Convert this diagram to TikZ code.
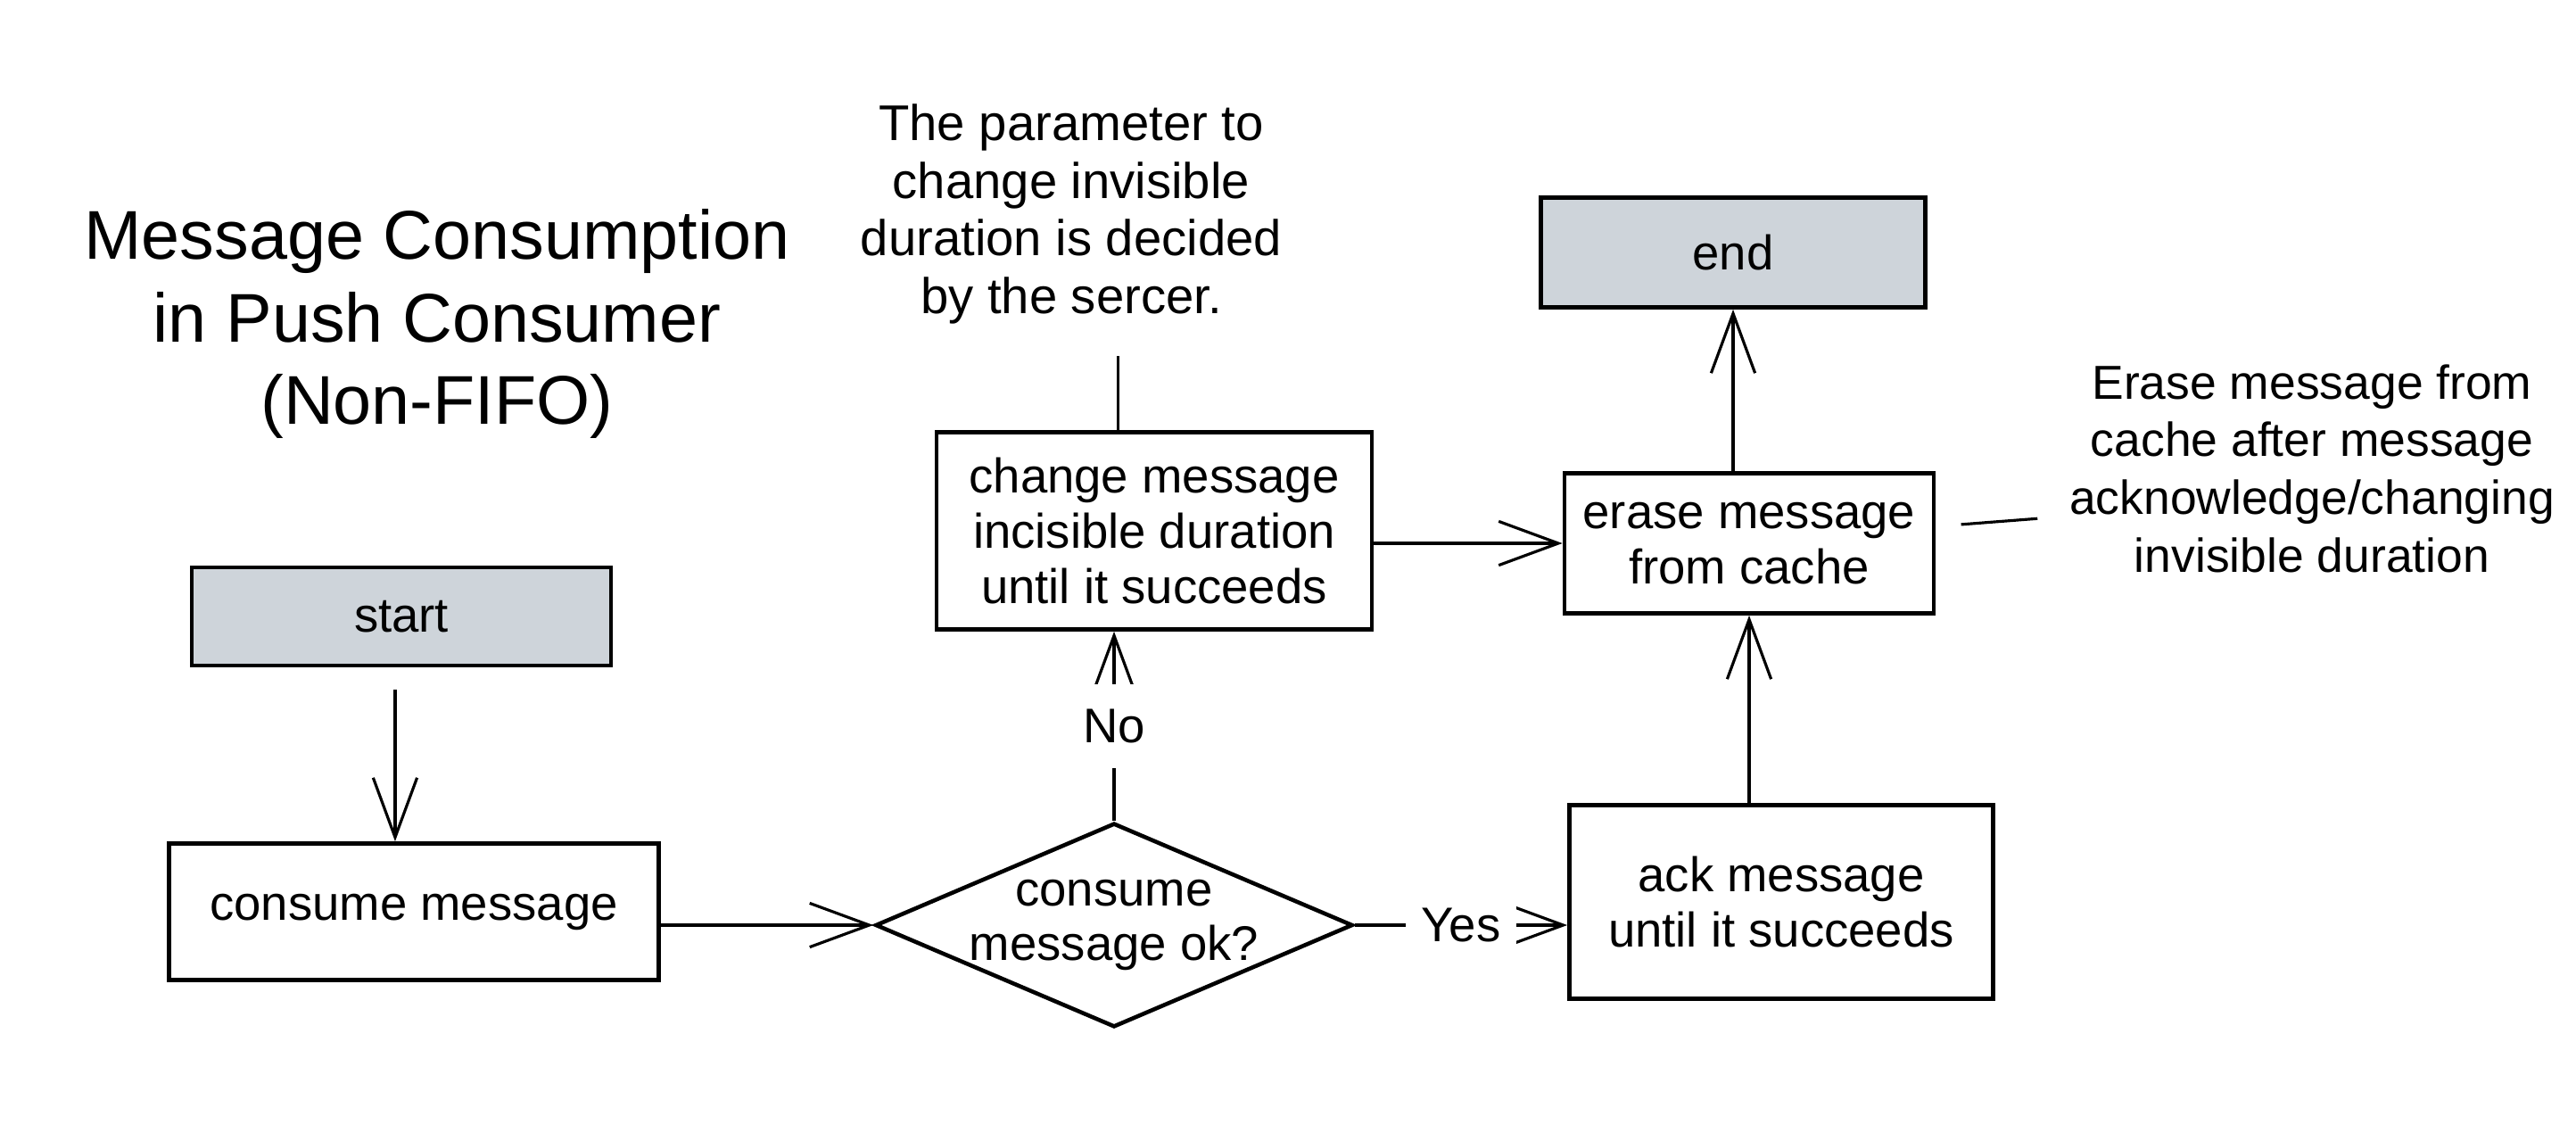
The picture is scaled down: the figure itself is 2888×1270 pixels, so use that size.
\documentclass[tikz,border=0pt]{standalone}
\usepackage{fontspec}
\setmainfont{Liberation Sans}
\usetikzlibrary{arrows.meta,shapes.geometric}
\definecolor{boxgray}{HTML}{CED4DA}
\begin{document}
\begin{tikzpicture}[x=0.01cm,y=-0.01cm,
  txt/.style={font=\fontsize{15.5}{17.5}\selectfont},
  box/.style={draw, line width=1.3pt, align=center, inner sep=0pt, txt},
  term/.style={box, fill=boxgray},
  dec/.style={diamond, draw, line width=1.3pt, align=center, inner xsep=-4pt, inner ysep=0pt, aspect=2.34, txt},
  note/.style={align=center, inner sep=0pt, font=\fontsize{16}{18.4}\selectfont},
  arr/.style={line width=0.9pt, -{Straight Barb[length=19pt,width=14pt,line width=0.9pt]}},
  lbl/.style={fill=white, inner xsep=5pt, inner ysep=8pt, txt},
  noteline/.style={line width=0.9pt}]
\useasboundingbox (0,0) rectangle (2888,1270);

% title
\node[align=center, inner sep=0pt, font=\fontsize{22}{26.2}\selectfont] (title) at (490,363)
  {Message Consumption\\in Push Consumer\\(Non-FIFO)};

% annotations
\node[note] (ann1) at (1201,240) {The parameter to\\change invisible\\duration is decided\\by the sercer.};
\node[note, font=\fontsize{15.2}{18.4}\selectfont] (ann2) at (2592,525) {Erase message from\\cache after message\\acknowledge/changing\\invisible duration};

% boxes
\node[term, minimum width=4.70cm, minimum height=1.10cm] (start) at (450,691) {start};
\node[box, minimum width=5.49cm, minimum height=1.53cm] (consume) at (464,1022) {consume message};
\node[dec] (dec) at (1249,1037) {consume\\message ok?};
\node[box, minimum width=4.88cm, minimum height=2.21cm] (change) at (1294,595) {change message\\incisible duration\\until it succeeds};
\node[term, minimum width=4.31cm, minimum height=1.23cm] (endbox) at (1943,283) {end};
\node[box, minimum width=4.14cm, minimum height=1.57cm] (erase) at (1961,609) {erase message\\from cache};
\node[box, minimum width=4.75cm, minimum height=2.17cm] (ack) at (1997,1011) {ack message\\until it succeeds};

% connectors
\draw[arr] ([xshift=-2pt,yshift=-7pt]start.south) coordinate (s1) -- (s1 |- consume.north);
\draw[arr] (consume.east |- dec.west) -- (dec.west);
\draw[arr] (dec.east) -- node[lbl] {Yes} (dec.east -| ack.west);
\draw[arr] (dec.north) -- node[lbl] {No} (dec.north |- change.south);
\draw[arr] (change.east |- erase.west) -- (erase.west);
\draw[arr] (erase.south |- ack.north) -- (erase.south);
\draw[arr] (endbox.south |- erase.north) -- (endbox.south);

% note lines
\draw[noteline] ([xshift=15pt,yshift=-10pt]ann1.south) coordinate (n1) -- (n1 |- change.north);
\draw[noteline] ([xshift=8pt,yshift=6pt]erase.east) -- ([xshift=-10pt,yshift=-16pt]ann2.west);
\end{tikzpicture}
\end{document}
